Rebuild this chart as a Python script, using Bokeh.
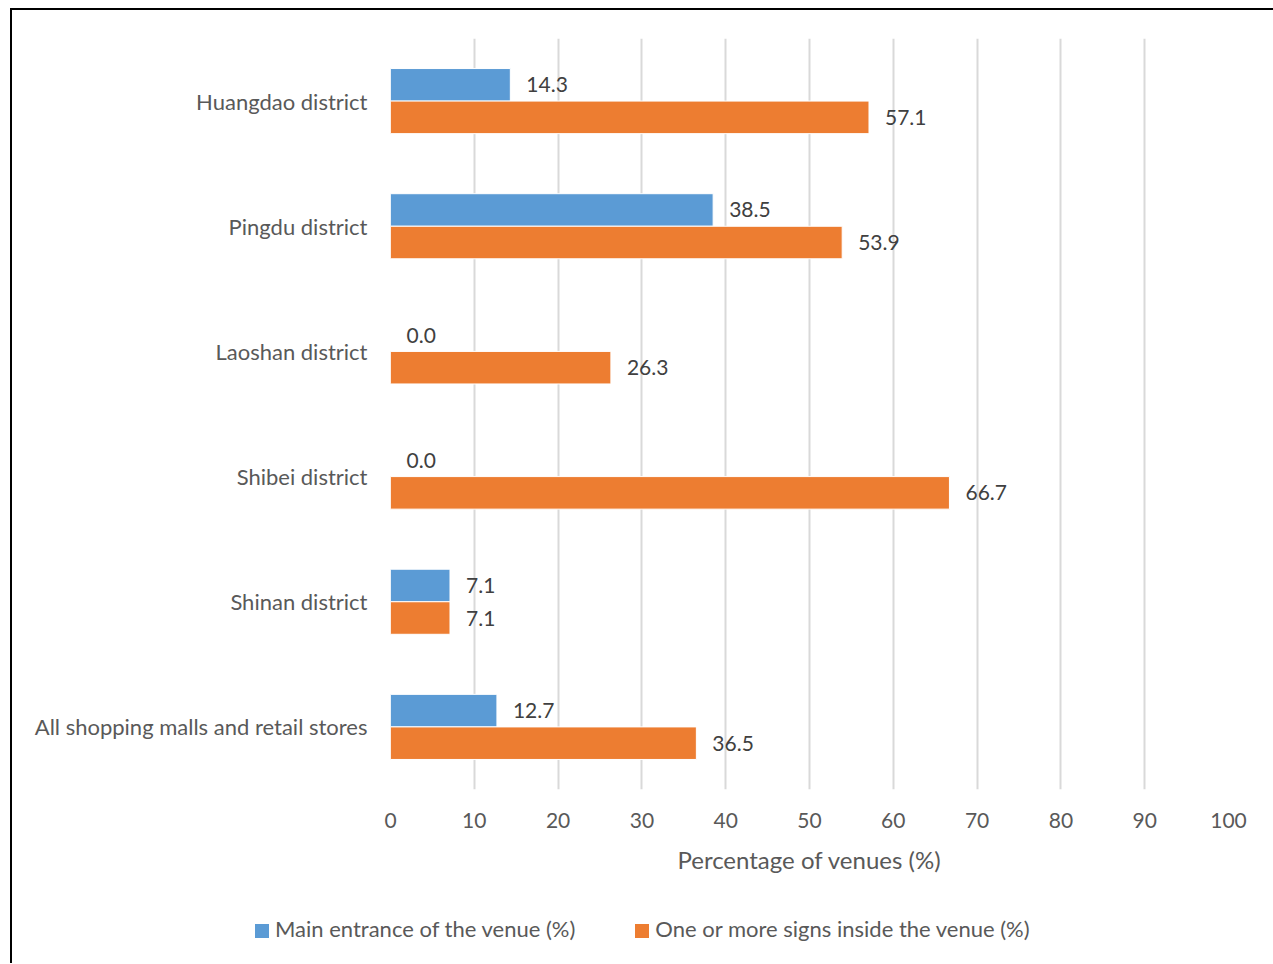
from bokeh.plotting import figure
from bokeh.layouts import column
from bokeh.models import FactorRange, Range1d, ColumnDataSource, SingleIntervalTicker, Div
from bokeh.transform import dodge
from bokeh.core.properties import value
from bokeh.embed import file_html
from bokeh.resources import INLINE

categories = ["Huangdao district", "Pingdu district", "Laoshan district",
              "Shibei district", "Shinan district", "All shopping malls and retail stores"]
main_entrance = [14.3, 38.5, 0.0, 0.0, 7.1, 12.7]
signs_inside = [57.1, 53.9, 26.3, 66.7, 7.1, 36.5]
series_names = ["Main entrance of the venue (%)", "One or more signs inside the venue (%)"]
x_label = "Percentage of venues (%)"

FONT = "Lato"
BLUE = "#5B9BD5"
ORANGE = "#ED7D31"

src = ColumnDataSource(dict(
    cat=categories,
    a=main_entrance,
    b=signs_inside,
    a_lbl=[f"{v:.1f}" for v in main_entrance],
    b_lbl=[f"{v:.1f}" for v in signs_inside],
))

p = figure(y_range=FactorRange(*reversed(categories)), x_range=Range1d(0, 100),
           frame_width=838, frame_height=751,
           min_border_left=378, min_border_right=45, min_border_top=28, min_border_bottom=100,
           output_backend="svg", toolbar_location=None)

p.hbar(y=dodge("cat", 0.13, range=p.y_range), right="a", left=0, height=0.26,
       source=src, fill_color=BLUE, line_color="white", line_width=1)
p.hbar(y=dodge("cat", -0.13, range=p.y_range), right="b", left=0, height=0.26,
       source=src, fill_color=ORANGE, line_color="white", line_width=1)

p.text(x="a", y=dodge("cat", 0.13, range=p.y_range), text="a_lbl", source=src,
       x_offset=16, text_baseline="middle", text_align="left",
       text_font=value(FONT), text_font_size="21px", text_color="#404040")
p.text(x="b", y=dodge("cat", -0.13, range=p.y_range), text="b_lbl", source=src,
       x_offset=16, text_baseline="middle", text_align="left",
       text_font=value(FONT), text_font_size="21px", text_color="#404040")

p.outline_line_color = None
p.ygrid.grid_line_color = None
p.xgrid.grid_line_color = "#D9D9D9"
p.xgrid.grid_line_width = 2
p.xaxis.ticker = SingleIntervalTicker(interval=10)

for ax in (p.xaxis[0], p.yaxis[0]):
    ax.axis_line_color = None
    ax.major_tick_line_color = None
    ax.minor_tick_line_color = None
    ax.major_label_text_font = FONT
    ax.major_label_text_color = "#595959"

p.yaxis.major_label_text_font_size = "22px"
p.xaxis.major_label_text_font_size = "21px"
p.yaxis.major_label_standoff = 17
p.xaxis.major_label_standoff = 17
p.xaxis.axis_label = x_label
p.xaxis.axis_label_text_font = FONT
p.xaxis.axis_label_text_font_style = "normal"
p.xaxis.axis_label_text_font_size = "24px"
p.xaxis.axis_label_text_color = "#595959"
p.xaxis.axis_label_standoff = 14

# legend strip below the chart
swatch = ('<span style="display:inline-block;width:14px;height:14px;background:{c};'
          'margin-right:6px;vertical-align:-1px;"></span>')
items_html = []
for i, (name, col) in enumerate(zip(series_names, [BLUE, ORANGE])):
    gap = "margin-left:60px;" if i > 0 else ""
    items_html.append(f'<span style="white-space:nowrap;{gap}">{swatch.format(c=col)}{name}</span>')
legend_div = Div(text="".join(items_html), width=1261, height=64,
                 styles={"font-family": FONT, "font-size": "22px", "color": "#595959",
                         "padding-left": "238px", "padding-top": "22px",
                         "box-sizing": "border-box", "line-height": "26px"})

layout = column(p, legend_div, spacing=0)
layout.styles = {"border-left": "2px solid #000000", "border-top": "2px solid #000000",
                 "margin-left": "10px", "margin-top": "8px"}

open("out.html", "w").write(file_html(layout, INLINE))
